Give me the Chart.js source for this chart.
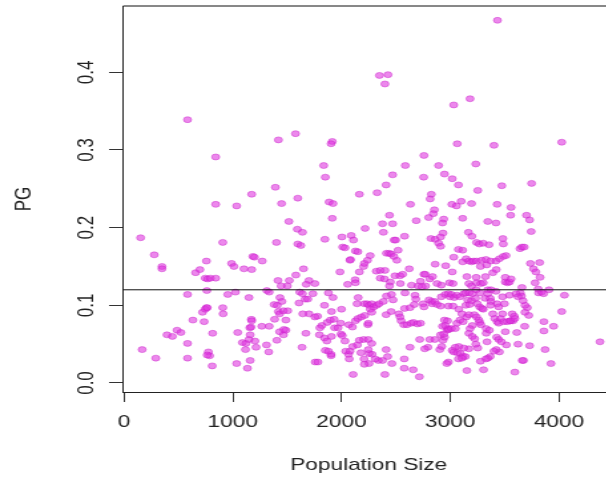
<!DOCTYPE html>
<html>
<head>
<meta charset="utf-8">
<script src="https://cdn.jsdelivr.net/npm/chart.js@4.4.1/dist/chart.umd.min.js"></script>
<style>
  html, body { margin: 0; padding: 0; background: #fff; overflow: hidden; width: 606px; height: 478px; }
  #wrap { width: 606px; height: 478px; overflow: hidden; }
  /* the reference picture is stretched sideways, so is this one */
  #pgChart { transform: scaleX(1.33); transform-origin: 0 0; }
</style>
</head>
<body>
<div id="wrap"><canvas id="pgChart" width="470" height="478"></canvas></div>
<script>
const popSize = [
  3434, 2349, 2427, 2399, 3032, 3182, 584, 1577, 1420, 1915, 1904, 3064, 3402, 4025, 843, 2758,
  1836, 2587, 2893, 3235, 1851, 2470, 2755, 2947, 3018, 3075, 3474, 3748, 2410, 2328, 3253, 1392,
  1174, 2164, 2826, 2815, 1598, 843, 1036, 1449, 1886, 1922, 2634, 3015, 3057, 3100, 3196, 3431,
  3559, 2854, 2844, 1516, 1915, 2441, 2377, 2470, 2687, 2801, 2940, 2929, 3114, 3345, 3420, 3555,
  3701, 3730, 3744, 153, 908, 1402, 1594, 1641, 1847, 2004, 2089, 2110, 2011, 2032, 2217, 2385,
  2484, 2498, 2580, 2822, 2861, 2933, 2911, 2893, 2911, 3167, 3199, 3242, 3267, 3303, 3356, 3484,
  3488, 1598, 1626, 278, 349, 349, 658, 698, 758, 747, 769, 794, 843, 989, 1011, 1103,
  1174, 1185, 1199, 1271, 1416, 1580, 1651, 1701, 1676, 1755, 1520, 1502, 1445, 1986, 2128, 2150,
  2082, 2078, 2203, 2210, 2239, 2264, 2164, 2125, 2128, 2057, 2320, 2356, 2356, 2395, 2399, 2413,
  2438, 2456, 2481, 2509, 2520, 2491, 2538, 2562, 2449, 2441, 2541, 2623, 2644, 2758, 2769, 2726,
  2705, 2812, 2837, 2773, 2740, 2861, 2958, 2879, 2918, 2993, 3025, 3032, 3075, 3114, 3018, 3114,
  3146, 3171, 3196, 3214, 3242, 3289, 3328, 3370, 3420, 3278, 3335, 3391, 3423, 3452, 3488, 3513,
  3153, 3171, 3196, 3239, 3242, 3281, 3303, 3324, 3345, 3374, 3420, 3506, 3506, 3527, 3545, 3559,
  3641, 3659, 3680, 3737, 3765, 3787, 3822, 3826, 3780, 3659, 3644, 3655, 3812, 3840, 3858, 3808,
  3908, 4050, 4025, 3950, 3861, 3872, 3926, 3861, 4377, 3687, 3708, 3722, 3687, 3669, 3684, 3730,
  3673, 3662, 3594, 3623, 3612, 3577, 3552, 3506, 3516, 3452, 3423, 3402, 3367, 3345, 3328, 3306,
  3278, 3153, 3338, 3331, 3253, 3235, 3171, 3125, 3078, 3046, 3018, 3032, 3064, 3093, 3118, 3139,
  3075, 3107, 2983, 2968, 2904, 2922, 2933, 2947, 2972, 2979, 2911, 2940, 2794, 2765, 2719, 2812,
  2858, 2630, 2659, 2716, 2577, 2577, 2463, 2424, 2410, 2399, 2377, 2338, 2310, 2253, 2210, 2281,
  2253, 2207, 2178, 2107, 2071, 2064, 2039, 2078, 2103, 2146, 2032, 2164, 2203, 2246, 2278, 2246,
  1904, 1904, 1851, 1879, 1758, 1783, 1637, 1673, 1797, 1843, 1865, 1908, 1996, 2007, 1936, 1993,
  2068, 2100, 2128, 2150, 2182, 2214, 2242, 2246, 1819, 1801, 1868, 1779, 1701, 1644, 1755, 1897,
  1932, 1843, 1908, 1879, 1922, 2000, 2153, 2143, 2210, 2235, 2253, 2278, 2296, 2324, 2345, 2264,
  2278, 2385, 2413, 2459, 2410, 2456, 2474, 2527, 2538, 2548, 2573, 2602, 2641, 2662, 2698, 2726,
  2580, 2630, 2676, 2683, 2669, 2584, 2751, 2758, 2805, 2829, 2833, 2858, 2879, 2911, 2918, 2954,
  2983, 2997, 3011, 3036, 3061, 3089, 2983, 3025, 3078, 3107, 2947, 2975, 2929, 2954, 2986, 3011,
  3046, 3061, 3089, 3118, 3150, 3171, 3143, 3160, 3178, 3196, 3125, 3143, 3174, 3203, 3239, 3274,
  3232, 3249, 3271, 3292, 3303, 3320, 3345, 3367, 3374, 3370, 3221, 3242, 3263, 3271, 3281, 3203,
  3182, 3171, 3203, 3224, 3331, 3359, 3391, 3409, 3431, 3445, 3463, 3481, 3498, 3427, 3445, 3470,
  3491, 3523, 3552, 3570, 3588, 3594, 3605, 3623, 3481, 3545, 3431, 3445, 167, 292, 395, 445,
  488, 523, 584, 584, 584, 633, 737, 722, 758, 747, 765, 762, 776, 787, 765, 811,
  815, 908, 911, 954, 1025, 1046, 1036, 1089, 1121, 1117, 1135, 1149, 1160, 1149, 1160, 1157,
  1167, 1171, 1174, 1203, 1214, 1267, 1335, 1313, 1335, 1310, 1331, 1381, 1409, 1434, 1452, 1420,
  1431, 1466, 1505, 1385, 1431, 1466, 1488, 1470, 1406, 1488, 1609, 1666, 1690, 1616, 1641, 1737,
  1968
];

const pgValue = [
  0.467, 0.396, 0.397, 0.385, 0.358, 0.366, 0.339, 0.321, 0.313, 0.311, 0.308, 0.308, 0.306, 0.310, 0.291, 0.293,
  0.280, 0.280, 0.280, 0.282, 0.265, 0.268, 0.265, 0.269, 0.263, 0.255, 0.254, 0.257, 0.255, 0.245, 0.248, 0.252,
  0.243, 0.243, 0.243, 0.237, 0.238, 0.230, 0.228, 0.231, 0.233, 0.231, 0.230, 0.230, 0.228, 0.234, 0.231, 0.230,
  0.226, 0.223, 0.218, 0.208, 0.212, 0.216, 0.205, 0.205, 0.209, 0.213, 0.211, 0.206, 0.212, 0.208, 0.206, 0.216,
  0.216, 0.210, 0.195, 0.187, 0.181, 0.181, 0.198, 0.194, 0.185, 0.188, 0.190, 0.184, 0.175, 0.174, 0.199, 0.194,
  0.184, 0.184, 0.189, 0.186, 0.185, 0.193, 0.188, 0.180, 0.176, 0.194, 0.189, 0.181, 0.179, 0.180, 0.178, 0.186,
  0.179, 0.179, 0.177, 0.165, 0.150, 0.147, 0.142, 0.146, 0.157, 0.135, 0.134, 0.135, 0.135, 0.154, 0.150, 0.147,
  0.146, 0.163, 0.162, 0.157, 0.132, 0.139, 0.147, 0.132, 0.127, 0.128, 0.132, 0.125, 0.125, 0.143, 0.170, 0.169,
  0.159, 0.158, 0.150, 0.154, 0.158, 0.164, 0.143, 0.133, 0.129, 0.127, 0.144, 0.145, 0.135, 0.134, 0.145, 0.167,
  0.167, 0.166, 0.163, 0.158, 0.171, 0.138, 0.138, 0.140, 0.130, 0.125, 0.128, 0.147, 0.126, 0.140, 0.140, 0.131,
  0.125, 0.134, 0.137, 0.125, 0.124, 0.153, 0.151, 0.128, 0.126, 0.129, 0.128, 0.162, 0.172, 0.171, 0.143, 0.156,
  0.160, 0.157, 0.156, 0.157, 0.157, 0.158, 0.159, 0.157, 0.157, 0.150, 0.152, 0.142, 0.146, 0.160, 0.163, 0.164,
  0.137, 0.128, 0.125, 0.136, 0.129, 0.128, 0.129, 0.137, 0.120, 0.120, 0.118, 0.136, 0.130, 0.129, 0.130, 0.134,
  0.173, 0.175, 0.175, 0.154, 0.147, 0.143, 0.155, 0.136, 0.129, 0.123, 0.116, 0.112, 0.116, 0.117, 0.115, 0.121,
  0.120, 0.113, 0.092, 0.073, 0.067, 0.043, 0.025, 0.079, 0.053, 0.091, 0.097, 0.087, 0.100, 0.106, 0.073, 0.048,
  0.029, 0.029, 0.014, 0.050, 0.065, 0.080, 0.080, 0.066, 0.049, 0.040, 0.043, 0.041, 0.034, 0.032, 0.031, 0.017,
  0.028, 0.016, 0.053, 0.064, 0.045, 0.050, 0.044, 0.045, 0.047, 0.046, 0.042, 0.040, 0.039, 0.038, 0.034, 0.034,
  0.031, 0.032, 0.027, 0.025, 0.043, 0.047, 0.055, 0.059, 0.068, 0.070, 0.062, 0.063, 0.046, 0.044, 0.056, 0.056,
  0.056, 0.046, 0.017, 0.008, 0.031, 0.019, 0.025, 0.034, 0.043, 0.011, 0.029, 0.029, 0.031, 0.025, 0.024, 0.037,
  0.038, 0.031, 0.039, 0.011, 0.031, 0.037, 0.041, 0.041, 0.047, 0.049, 0.054, 0.055, 0.056, 0.056, 0.051, 0.043,
  0.035, 0.037, 0.042, 0.041, 0.027, 0.027, 0.046, 0.064, 0.062, 0.058, 0.054, 0.060, 0.063, 0.061, 0.071, 0.077,
  0.075, 0.072, 0.080, 0.083, 0.085, 0.087, 0.075, 0.077, 0.074, 0.071, 0.078, 0.086, 0.089, 0.089, 0.085, 0.081,
  0.082, 0.100, 0.092, 0.116, 0.110, 0.095, 0.110, 0.102, 0.102, 0.102, 0.100, 0.102, 0.098, 0.100, 0.102, 0.095,
  0.091, 0.105, 0.112, 0.114, 0.088, 0.092, 0.107, 0.089, 0.085, 0.080, 0.075, 0.075, 0.077, 0.078, 0.076, 0.077,
  0.096, 0.097, 0.113, 0.108, 0.101, 0.116, 0.102, 0.098, 0.107, 0.105, 0.102, 0.105, 0.101, 0.099, 0.111, 0.114,
  0.115, 0.111, 0.114, 0.110, 0.113, 0.111, 0.099, 0.099, 0.095, 0.089, 0.081, 0.080, 0.073, 0.074, 0.069, 0.070,
  0.070, 0.077, 0.081, 0.079, 0.085, 0.088, 0.100, 0.107, 0.101, 0.106, 0.115, 0.116, 0.116, 0.115, 0.120, 0.116,
  0.109, 0.102, 0.098, 0.096, 0.095, 0.109, 0.115, 0.109, 0.105, 0.100, 0.088, 0.085, 0.081, 0.078, 0.075, 0.074,
  0.070, 0.064, 0.060, 0.057, 0.070, 0.068, 0.089, 0.083, 0.079, 0.077, 0.083, 0.089, 0.102, 0.059, 0.056, 0.053,
  0.079, 0.079, 0.080, 0.089, 0.086, 0.083, 0.115, 0.111, 0.111, 0.113, 0.102, 0.098, 0.043, 0.032, 0.062, 0.060,
  0.068, 0.065, 0.114, 0.051, 0.032, 0.081, 0.079, 0.091, 0.097, 0.095, 0.097, 0.119, 0.040, 0.035, 0.036, 0.022,
  0.064, 0.097, 0.089, 0.114, 0.117, 0.065, 0.025, 0.052, 0.051, 0.043, 0.019, 0.110, 0.029, 0.056, 0.062, 0.071,
  0.072, 0.082, 0.080, 0.054, 0.046, 0.073, 0.073, 0.119, 0.117, 0.049, 0.040, 0.101, 0.100, 0.110, 0.105, 0.092,
  0.089, 0.093, 0.093, 0.082, 0.066, 0.062, 0.068, 0.069, 0.055, 0.081, 0.103, 0.108, 0.108, 0.117, 0.115, 0.115,
  0.071
];

const xTicks = [0, 1000, 2000, 3000, 4000];
const yTicks = [0, 0.1, 0.2, 0.3, 0.4];
const meanPG = 0.12;

const textFont = { family: "'Liberation Sans', Arial, sans-serif", size: 17 };
const inkColor = "#222";

// box top/right, the mean line and R-style rotated y labels
const framePlugin = {
  id: "frame",
  afterDraw(chart) {
    const { ctx, chartArea: a, scales } = chart;
    const yLine = scales.y.getPixelForValue(meanPG);
    ctx.save();
    ctx.strokeStyle = "#111";
    ctx.lineWidth = 1;
    ctx.beginPath();
    ctx.moveTo(a.left, yLine);
    ctx.lineTo(a.right, yLine);
    ctx.moveTo(a.left, a.top);
    ctx.lineTo(a.right, a.top);
    ctx.lineTo(a.right, a.bottom);
    ctx.stroke();

    ctx.fillStyle = inkColor;
    ctx.font = textFont.size + "px " + textFont.family;
    ctx.textAlign = "center";
    ctx.textBaseline = "middle";
    scales.y.ticks.forEach((t) => {
      const py = scales.y.getPixelForValue(t.value);
      ctx.save();
      ctx.translate(65, py);
      ctx.rotate(-Math.PI / 2);
      ctx.fillText(t.value.toFixed(1), 0, 0);
      ctx.restore();
    });
    ctx.restore();
  },
};

const ctx = document.getElementById("pgChart").getContext("2d");

new Chart(ctx, {
  type: "scatter",
  data: {
    datasets: [
      {
        data: popSize.map((x, i) => ({ x: x, y: pgValue[i] })),
        backgroundColor: "rgba(222, 50, 222, 0.58)",
        borderColor: "rgba(200, 30, 200, 0.55)",
        borderWidth: 0.8,
        pointRadius: 3,
        pointHoverRadius: 3,
      },
    ],
  },
  options: {
    responsive: false,
    animation: false,
    devicePixelRatio: 1,
    events: [],
    layout: { padding: { top: 6, right: 8, bottom: 0, left: 0 } },
    plugins: {
      legend: { display: false },
      tooltip: { enabled: false },
    },
    scales: {
      x: {
        type: "linear",
        min: -9,
        max: 4510,
        afterBuildTicks: (s) => {
          s.ticks = xTicks.map((v) => ({ value: v }));
        },
        afterFit: (s) => {
          s.height = 86;
        },
        grid: { display: true, drawOnChartArea: false, drawTicks: true, tickLength: 10, color: "#333" },
        border: { display: true, color: "#222", width: 1 },
        ticks: {
          font: textFont,
          color: inkColor,
          padding: 10,
          maxRotation: 0,
          autoSkip: false,
          callback: (v) => String(v),
        },
        title: {
          display: true,
          text: "Population Size",
          font: textFont,
          color: inkColor,
          padding: { top: 0, bottom: 2 },
        },
      },
      y: {
        type: "linear",
        min: -0.0116,
        max: 0.4854,
        afterBuildTicks: (s) => {
          s.ticks = yTicks.map((v) => ({ value: v }));
        },
        afterFit: (s) => {
          s.width = 92.5;
        },
        grid: { display: true, drawOnChartArea: false, drawTicks: true, tickLength: 10.5, color: "#333" },
        border: { display: true, color: "#222", width: 1 },
        ticks: { display: false },
        title: {
          display: true,
          text: "PG",
          font: textFont,
          color: inkColor,
          padding: { top: 8, bottom: 0 },
        },
      },
    },
  },
  plugins: [framePlugin],
});
</script>
</body>
</html>
